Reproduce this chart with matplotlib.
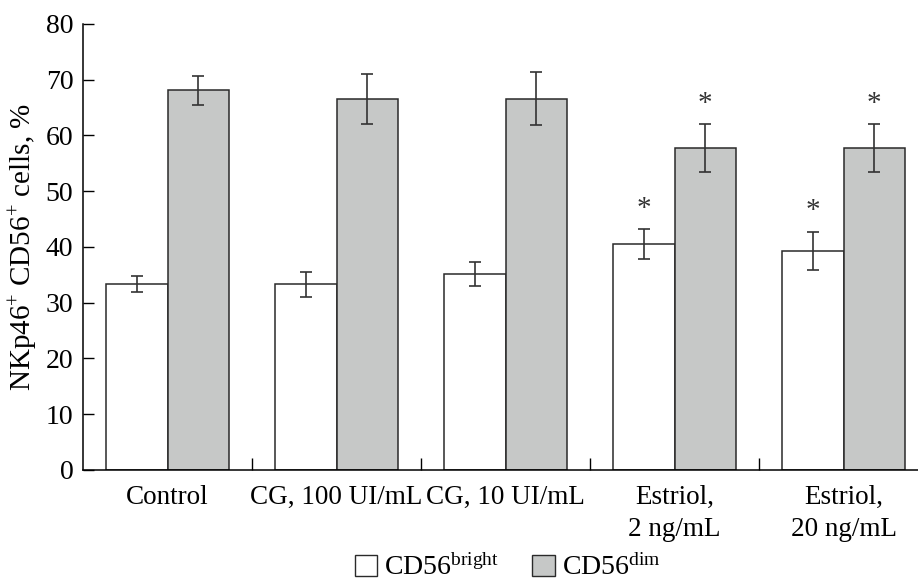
import numpy as np
import matplotlib.pyplot as plt
from matplotlib.patches import Patch

plt.rcParams['font.family'] = ['Liberation Serif', 'DejaVu Serif']
plt.rcParams['mathtext.fontset'] = 'custom'
plt.rcParams['mathtext.rm'] = 'Liberation Serif'
plt.rcParams['mathtext.it'] = 'Liberation Serif:italic'

groups = ['Control', 'CG, 100 UI/mL', 'CG, 10 UI/mL', 'Estriol,\n2 ng/mL', 'Estriol,\n20 ng/mL']
bright = [33.3, 33.3, 35.2, 40.5, 39.3]
bright_err = [1.4, 2.25, 2.15, 2.7, 3.45]
dim = [68.1, 66.5, 66.6, 57.8, 57.8]
dim_err = [2.55, 4.5, 4.7, 4.3, 4.3]
bright_sig = [False, False, False, True, True]
dim_sig = [False, False, False, True, True]

gray = '#c6c8c7'
edge = '#2a2a2a'

fig = plt.figure(figsize=(9.18, 5.85), dpi=100)
ax = fig.add_axes([0.0904, 0.197, 0.9096, 0.762])

x = np.arange(len(groups))
w = 0.364

ax.bar(x - w / 2, bright, w, color='white', edgecolor=edge, linewidth=1.1)
ax.bar(x + w / 2, dim, w, color=gray, edgecolor=edge, linewidth=1.1)
ax.errorbar(x - w / 2, bright, yerr=bright_err, fmt='none', ecolor='#333333',
            elinewidth=1.2, capsize=4.5, capthick=1.2)
ax.errorbar(x + w / 2, dim, yerr=dim_err, fmt='none', ecolor='#333333',
            elinewidth=1.2, capsize=4.5, capthick=1.2)

for i in range(len(groups)):
    if bright_sig[i]:
        ax.text(x[i] - w / 2, bright[i] + bright_err[i] + 3.6, '*', ha='center',
                va='center', fontsize=21, color='#333333')
    if dim_sig[i]:
        ax.text(x[i] + w / 2, dim[i] + dim_err[i] + 3.6, '*', ha='center',
                va='center', fontsize=21, color='#333333')

ax.set_xlim(-0.5, 4.44)
ax.set_ylim(0, 80)
ax.set_yticks(range(0, 81, 10))
ax.tick_params(axis='y', direction='in', length=8, width=1, labelsize=20, pad=7)

ax.set_xticks(x[:-1] + 0.5)
ax.set_xticks(x, minor=True)
ax.set_xticklabels([])
ax.set_xticklabels(groups, minor=True)
ax.tick_params(axis='x', which='major', direction='in', length=9, width=1)
ax.tick_params(axis='x', which='minor', length=0, labelsize=19.5, pad=11)
for t in ax.get_xticklabels(minor=True):
    t.set_linespacing(1.35)

ax.spines['top'].set_visible(False)
ax.spines['right'].set_visible(False)
ax.spines['left'].set_linewidth(1.1)
ax.spines['bottom'].set_linewidth(1.1)

ax.set_ylabel('NKp46$^{+}$ CD56$^{+}$ cells, %', fontsize=21, labelpad=4)

handles = [Patch(facecolor='white', edgecolor=edge, linewidth=1.0),
           Patch(facecolor=gray, edgecolor=edge, linewidth=1.0)]
fig.legend(handles, ['CD56$^{\\rm bright}$', 'CD56$^{\\rm dim}$'], loc='lower center',
           bbox_to_anchor=(0.553, -0.036), ncol=2, frameon=False, fontsize=20,
           handlelength=0.8, handleheight=0.8, handletextpad=0.25, columnspacing=1.2)

fig.savefig('out.png', dpi=100)
